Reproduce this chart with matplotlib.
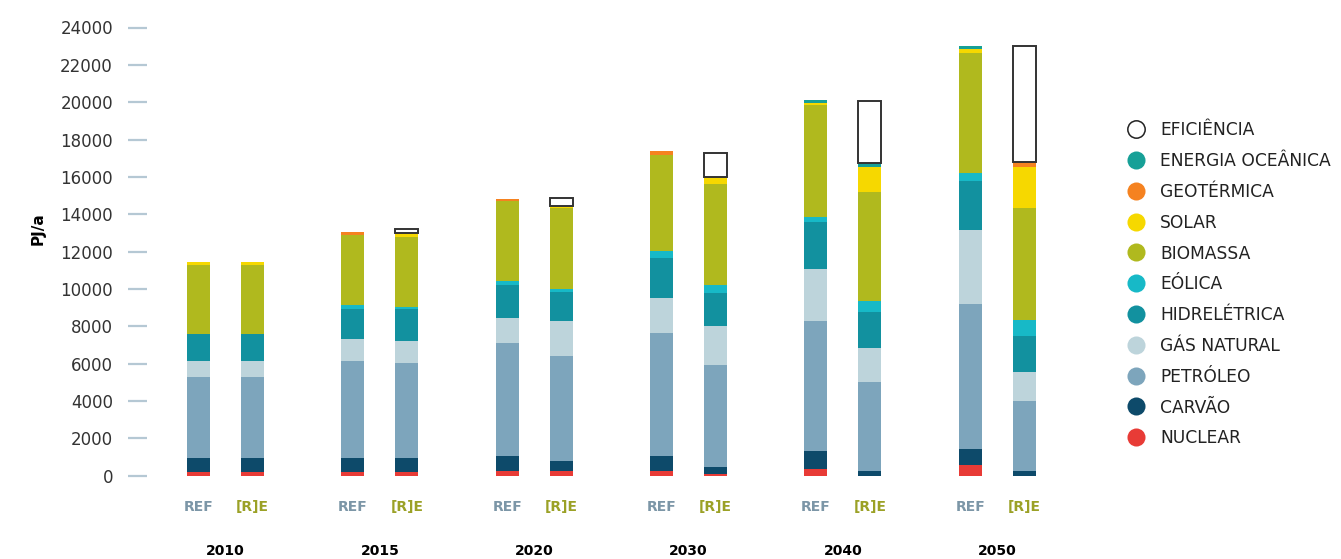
import matplotlib.pyplot as plt
from matplotlib.lines import Line2D
import numpy as np

plt.rcParams['font.family'] = ['DejaVu Sans']

years = ['2010', '2015', '2020', '2030', '2040', '2050']
scen_labels = ['REF', '[R]E']

# PJ/a por fonte; listas na ordem dos anos
nuclear_ref = [215, 215, 240, 240, 360, 570]
nuclear_re = [215, 215, 240, 110, 0, 0]
carvao_ref = [735, 735, 815, 815, 965, 860]
carvao_re = [735, 735, 550, 375, 250, 250]
petroleo_ref = [4340, 5195, 6055, 6605, 6965, 7770]
petroleo_re = [4340, 5090, 5625, 5450, 4770, 3750]
gas_ref = [855, 1180, 1340, 1860, 2785, 3965]
gas_re = [855, 1180, 1875, 2090, 1820, 1555]
hidro_ref = [1445, 1605, 1770, 2145, 2520, 2625]
hidro_re = [1445, 1710, 1555, 1765, 1930, 1930]
eolica_ref = [0, 215, 215, 375, 270, 430]
eolica_re = [0, 105, 160, 430, 590, 855]
biomassa_ref = [3710, 3750, 4250, 5140, 6000, 6430]
biomassa_re = [3710, 3765, 4355, 5410, 5840, 6000]
solar_ref = [150, 0, 0, 0, 105, 215]
solar_re = [150, 200, 55, 340, 1340, 2195]
geo_ref = [0, 175, 145, 215, 0, 0]
geo_re = [0, 0, 0, 0, 0, 270]
oceanica_ref = [0, 0, 0, 0, 160, 160]
oceanica_re = [0, 0, 0, 0, 200, 0]
eficiencia_ref = [0, 0, 0, 0, 0, 0]
eficiencia_re = [0, 210, 430, 1325, 3300, 6215]

# de baixo para cima
sources = [
    ('NUCLEAR', '#e83b36', nuclear_ref, nuclear_re),
    ('CARVÃO', '#0d4a6a', carvao_ref, carvao_re),
    ('PETRÓLEO', '#7da5bc', petroleo_ref, petroleo_re),
    ('GÁS NATURAL', '#bdd4db', gas_ref, gas_re),
    ('HIDRELÉTRICA', '#12919f', hidro_ref, hidro_re),
    ('EÓLICA', '#17b9c7', eolica_ref, eolica_re),
    ('BIOMASSA', '#b0b91e', biomassa_ref, biomassa_re),
    ('SOLAR', '#f6d800', solar_ref, solar_re),
    ('GEOTÉRMICA', '#f58220', geo_ref, geo_re),
    ('ENERGIA OCEÂNICA', '#17a097', oceanica_ref, oceanica_re),
    ('EFICIÊNCIA', 'white', eficiencia_ref, eficiencia_re),
]

W, H = 1341, 559
fig = plt.figure(figsize=(W / 100, H / 100), dpi=100)
ax = fig.add_axes([147 / W, 1 - 475.7 / H, (1095 - 147) / W, (475.7 - 27.5) / H])

x = np.arange(len(years))
off = 0.175
width = 0.149

for k, xs in enumerate([x - off, x + off]):
    bottom = np.zeros(len(years))
    for name, color, vref, vre in sources:
        vals = np.array(vref if k == 0 else vre, dtype=float)
        if name == 'EFICIÊNCIA':
            m = vals > 0
            ax.bar(xs[m], vals[m], width, bottom=bottom[m], color='white',
                   edgecolor='#333333', linewidth=1.4)
        else:
            ax.bar(xs, vals, width, bottom=bottom, color=color, linewidth=0)
        bottom += vals

ax.set_xlim(-0.51, 5.634)
ax.set_ylim(0, 24000)
ax.set_yticks(np.arange(0, 24001, 2000))
ax.tick_params(axis='y', length=13.5, width=1.6, color='#b5c8d4', pad=11,
               labelsize=12, labelcolor='#333333')
ax.set_xticks([])
for s in ax.spines.values():
    s.set_visible(False)

for i in range(len(years)):
    ax.text(x[i] - off, -1650, 'REF', ha='center', va='center', fontsize=10,
            fontweight='bold', color='#7c96a7', clip_on=False)
    ax.text(x[i] + off, -1650, '[R]E', ha='center', va='center', fontsize=10,
            fontweight='bold', color='#9ba126', clip_on=False)
    ax.text(x[i], -4050, years[i], ha='center', va='center', fontsize=10,
            fontweight='bold', color='black', clip_on=False)

fig.text(38 / W, 1 - 229 / H, 'PJ/a', rotation=90, ha='center', va='center',
         fontsize=11, fontweight='bold', color='black')

# legenda
for j, (name, color, _, _) in enumerate(sources[::-1]):
    yc = 1 - (129.2 + j * 30.8) / H
    if name == 'EFICIÊNCIA':
        mk = Line2D([1136 / W], [yc], marker='o', ms=12.5, mfc='white', mec='#222222',
                    mew=1.1, transform=fig.transFigure)
    else:
        mk = Line2D([1136 / W], [yc], marker='o', ms=13, mfc=color, mec=color,
                    mew=0, transform=fig.transFigure)
    fig.add_artist(mk)
    fig.text(1160 / W, yc - 6.2 / H, name, ha='left', va='baseline',
             fontsize=12.3, color='#222222')

fig.savefig('out.png', dpi=100)
